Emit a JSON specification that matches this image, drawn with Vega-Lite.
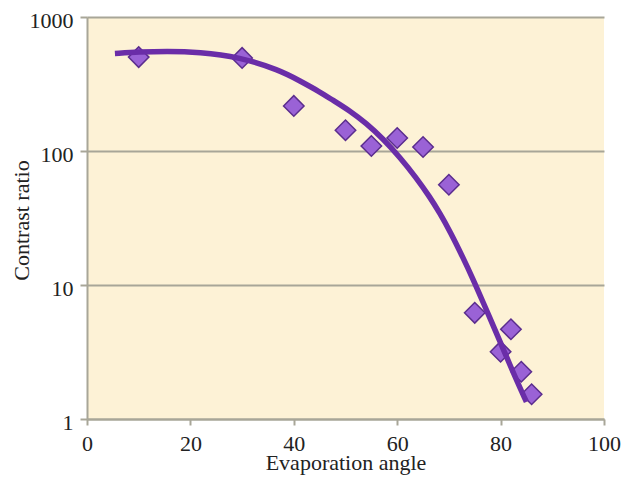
{
  "$schema": "https://vega.github.io/schema/vega-lite/v6.json",
  "autosize": {"type": "none"},
  "width": 517,
  "height": 402,
  "padding": {"left": 87, "top": 17, "right": 18, "bottom": 58},
  "background": "white",
  "config": {
    "view": {"fill": "#FDF2D6", "stroke": null},
    "font": "Liberation Serif"
  },
  "datasets": {
    "points": [
      {"angle": 10, "ratio": 502},
      {"angle": 30, "ratio": 495},
      {"angle": 40, "ratio": 217},
      {"angle": 50, "ratio": 143},
      {"angle": 55, "ratio": 109},
      {"angle": 60, "ratio": 125},
      {"angle": 65, "ratio": 107},
      {"angle": 70, "ratio": 56},
      {"angle": 75, "ratio": 6.2},
      {"angle": 80, "ratio": 3.18},
      {"angle": 82, "ratio": 4.67},
      {"angle": 84, "ratio": 2.25},
      {"angle": 86, "ratio": 1.53}
    ],
    "fit": [
      {"angle": 5.4, "ratio": 535},
      {"angle": 10.1, "ratio": 548},
      {"angle": 15.3, "ratio": 555},
      {"angle": 21.7, "ratio": 548},
      {"angle": 29.5, "ratio": 502},
      {"angle": 37.2, "ratio": 402},
      {"angle": 41.1, "ratio": 335},
      {"angle": 45.0, "ratio": 277},
      {"angle": 47.5, "ratio": 240},
      {"angle": 50.8, "ratio": 200},
      {"angle": 54.0, "ratio": 161},
      {"angle": 57.2, "ratio": 124},
      {"angle": 60.5, "ratio": 90.0},
      {"angle": 63.7, "ratio": 63.1},
      {"angle": 66.3, "ratio": 45.4},
      {"angle": 68.2, "ratio": 34.6},
      {"angle": 70.2, "ratio": 25.2},
      {"angle": 72.7, "ratio": 16.1},
      {"angle": 74.7, "ratio": 11.0},
      {"angle": 76.6, "ratio": 7.46},
      {"angle": 79.2, "ratio": 4.36},
      {"angle": 81.1, "ratio": 2.94},
      {"angle": 83.1, "ratio": 1.94},
      {"angle": 85.0, "ratio": 1.34}
    ]
  },
  "encoding": {
    "x": {
      "field": "angle",
      "type": "quantitative",
      "scale": {"domain": [0, 100], "nice": false, "zero": false},
      "axis": {
        "title": "Evaporation angle",
        "values": [0, 20, 40, 60, 80, 100],
        "grid": false,
        "domainColor": "#A8A698",
        "domainWidth": 2,
        "tickColor": "#A8A698",
        "tickWidth": 2,
        "tickSize": 6,
        "labelPadding": 8,
        "labelFont": "Liberation Serif",
        "labelFontSize": 22,
        "labelColor": "#222222",
        "labelFlush": false,
        "titleFont": "Liberation Serif",
        "titleFontSize": 22,
        "titleFontWeight": "normal",
        "titleColor": "#222222",
        "titleBaseline": "alphabetic",
        "titleY": 50,
        "titleAnchor": "middle"
      }
    },
    "y": {
      "field": "ratio",
      "type": "quantitative",
      "scale": {"type": "log", "domain": [1, 1000], "nice": false},
      "axis": {
        "title": "Contrast ratio",
        "values": [1, 10, 100, 1000],
        "format": "d",
        "grid": true,
        "gridColor": "#A8A698",
        "gridWidth": 2,
        "domainColor": "#A8A698",
        "domainWidth": 2,
        "tickColor": "#A8A698",
        "tickWidth": 2,
        "tickSize": 7,
        "labelPadding": 7,
        "labelOffset": 3,
        "labelFont": "Liberation Serif",
        "labelFontSize": 22,
        "labelColor": "#222222",
        "labelFlush": false,
        "titleFont": "Liberation Serif",
        "titleFontSize": 22,
        "titleFontWeight": "normal",
        "titleColor": "#222222",
        "titleAngle": -90,
        "titleAlign": "center",
        "titleBaseline": "alphabetic",
        "titleX": -59,
        "titleY": 203
      }
    }
  },
  "layer": [
    {
      "data": {"name": "points"},
      "mark": {
        "type": "point",
        "shape": "diamond",
        "filled": true,
        "size": 420,
        "fill": "#9A62D6",
        "stroke": "#5B2D8E",
        "strokeWidth": 1.5,
        "opacity": 1
      }
    },
    {
      "data": {"name": "fit"},
      "mark": {
        "type": "line",
        "interpolate": "basis",
        "color": "#6A2DA8",
        "strokeWidth": 5.5
      }
    }
  ]
}
